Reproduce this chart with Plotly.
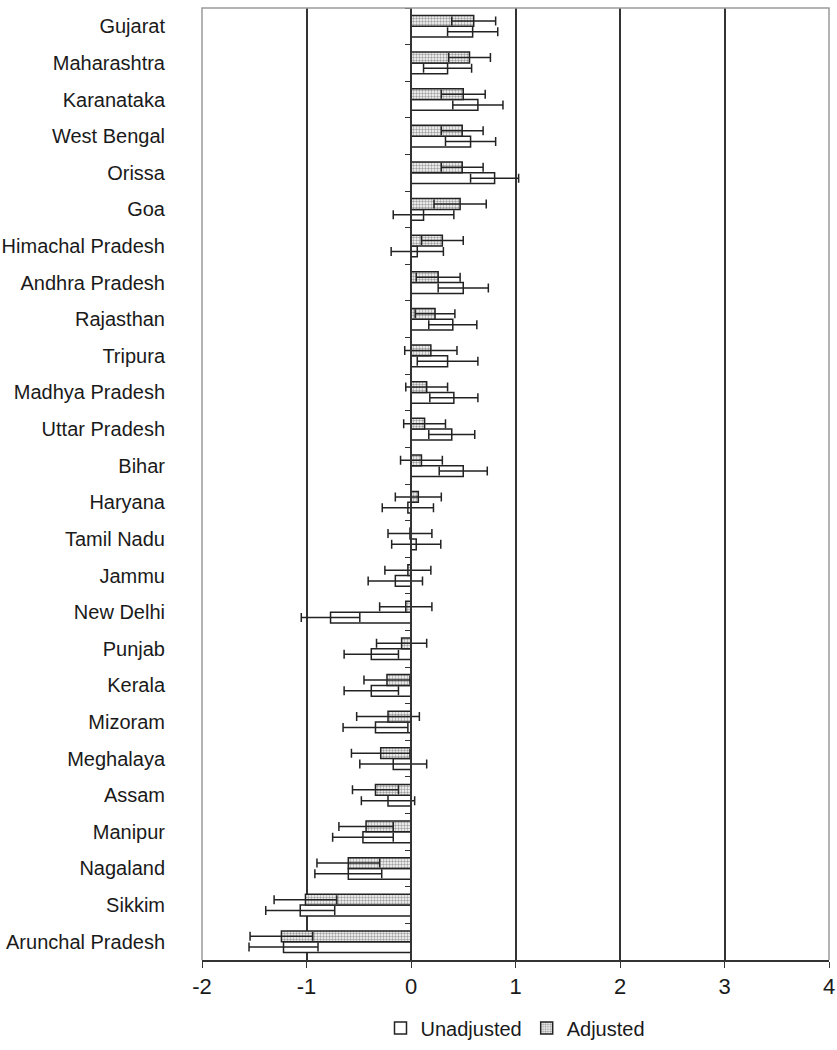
import plotly.graph_objects as go

# Data (top-to-bottom order as in the reference)
states = [
    "Gujarat", "Maharashtra", "Karanataka", "West Bengal", "Orissa", "Goa",
    "Himachal Pradesh", "Andhra Pradesh", "Rajasthan", "Tripura",
    "Madhya Pradesh", "Uttar Pradesh", "Bihar", "Haryana", "Tamil Nadu",
    "Jammu", "New Delhi", "Punjab", "Kerala", "Mizoram", "Meghalaya",
    "Assam", "Manipur", "Nagaland", "Sikkim", "Arunchal Pradesh",
]
adjusted = [0.60, 0.56, 0.50, 0.49, 0.49, 0.47, 0.30, 0.26, 0.23, 0.19,
            0.15, 0.13, 0.10, 0.07, -0.01, -0.03, -0.05, -0.09, -0.23,
            -0.22, -0.29, -0.34, -0.43, -0.60, -1.01, -1.24]
adjusted_err = [0.21, 0.20, 0.21, 0.20, 0.20, 0.25, 0.20, 0.21, 0.19, 0.25,
                0.20, 0.20, 0.20, 0.22, 0.21, 0.22, 0.25, 0.24, 0.22,
                0.30, 0.28, 0.22, 0.26, 0.30, 0.30, 0.30]
unadjusted = [0.59, 0.35, 0.64, 0.57, 0.80, 0.12, 0.06, 0.50, 0.40, 0.35,
              0.41, 0.39, 0.50, -0.03, 0.05, -0.15, -0.77, -0.38, -0.38,
              -0.34, -0.17, -0.22, -0.46, -0.60, -1.06, -1.22]
unadjusted_err = [0.24, 0.23, 0.24, 0.24, 0.23, 0.29, 0.25, 0.24, 0.23, 0.29,
                  0.23, 0.22, 0.23, 0.245, 0.235, 0.26, 0.28, 0.26, 0.26,
                  0.31, 0.32, 0.255, 0.29, 0.32, 0.33, 0.33]
x_ticks = [-2, -1, 0, 1, 2, 3, 4]
x_tick_labels = ["-2", "-1", "0", "1", "2", "3", "4"]

cats = states[::-1]
ink = "#222222"

fig = go.Figure()
fig.add_trace(go.Bar(
    name="Unadjusted", y=cats, x=unadjusted[::-1], orientation="h",
    marker=dict(color="white", line=dict(color=ink, width=1.5)),
    error_x=dict(type="data", array=unadjusted_err[::-1], color=ink,
                 thickness=1.5, width=4.5),
))
fig.add_trace(go.Bar(
    name="Adjusted", y=cats, x=adjusted[::-1], orientation="h",
    marker=dict(color="white", line=dict(color=ink, width=1.5),
                pattern=dict(shape=".", fgcolor="#444444", bgcolor="white",
                             size=3, solidity=0.5)),
    error_x=dict(type="data", array=adjusted_err[::-1], color=ink,
                 thickness=1.5, width=4.5),
))
# invisible helper trace so the category-tick axis at x=0 is drawn
fig.add_trace(go.Scatter(
    x=[0] * len(cats), y=cats, yaxis="y2", mode="markers",
    marker=dict(opacity=0), showlegend=False, hoverinfo="skip",
))

fig.update_layout(
    width=837, height=1050,
    margin=dict(l=202, r=8, t=8, b=90, autoexpand=False),
    paper_bgcolor="white", plot_bgcolor="white",
    barmode="group", bargap=0.41, bargroupgap=0,
    font=dict(family="Liberation Sans, Arial, sans-serif", size=20, color="#1a1a1a"),
    xaxis=dict(range=[-2, 4], tickvals=x_ticks, ticktext=x_tick_labels,
               showgrid=True, gridcolor="#333333", gridwidth=1.5,
               zeroline=False, showline=True, linecolor="#333333",
               linewidth=1.5, ticks="outside", ticklen=6,
               tickcolor="#333333", tickfont=dict(size=22), automargin=False),
    yaxis=dict(type="category", categoryorder="array", categoryarray=cats,
               range=[-0.5, len(cats) - 0.5], showgrid=False, ticks="",
               ticklabelstandoff=36, showline=False, zeroline=False,
               automargin=False, tickfont=dict(size=20)),
    yaxis2=dict(type="category", categoryorder="array", categoryarray=cats,
                range=[-0.5, len(cats) - 0.5], overlaying="y", anchor="free",
                position=1 / 3, side="left", showticklabels=False,
                ticks="outside", tickson="boundaries", ticklen=5,
                tickcolor="#333333", showline=True, linecolor="#333333",
                linewidth=1.5, showgrid=False, zeroline=False, automargin=False),
    legend=dict(orientation="h", x=0.5, xanchor="center", y=-0.0714,
                yanchor="middle", font=dict(size=20)),
    shapes=[dict(type="path", xref="paper", yref="paper",
                 path="M0,0 L0,1 L1,1 L1,0",
                 line=dict(color="#9a9a9a", width=1.5), layer="above")],
)

fig.write_html("out.html", config={"displayModeBar": False},
               post_script="document.body.style.margin='0';")
